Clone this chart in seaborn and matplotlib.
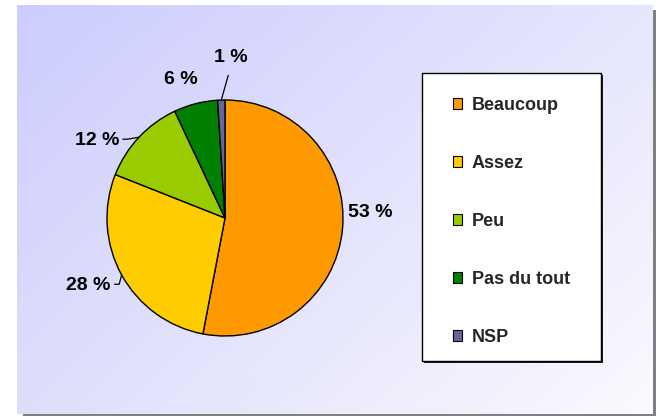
import numpy as np
import matplotlib
matplotlib.use("Agg")
import matplotlib.pyplot as plt
import seaborn as sns
from matplotlib.patches import Rectangle

categories = ["Beaucoup", "Assez", "Peu", "Pas du tout", "NSP"]
values = [53, 28, 12, 6, 1]
pct_labels = ["53 %", "28 %", "12 %", "6 %", "1 %"]
colors = ["#FF9900", "#FFCC00", "#99CC00", "#008000", "#666699"]

sns.set_theme(style="white")
plt.rcParams["font.family"] = ["Liberation Sans", "DejaVu Sans"]

W, H = 656, 416
fig = plt.figure(figsize=(W / 100, H / 100), dpi=100)
fig.patch.set_facecolor("white")

# background panel with gradient + shadow
bg = fig.add_axes([0, 0, 1, 1])
bg.set_xlim(0, W)
bg.set_ylim(H, 0)
bg.axis("off")
x0, x1, y0, y1 = 17, 653, 5, 414
bg.add_patch(Rectangle((x0 + 6, y1), x1 - x0 - 3, 3, color="#808080", lw=0))
bg.add_patch(Rectangle((x1, y0 + 5), 3, y1 - y0 - 2, color="#808080", lw=0))
nx, ny = 200, 130
u = np.linspace(0, 1, nx)[None, :, None]
v = np.linspace(0, 1, ny)[:, None, None]
tl = np.array([204, 204, 255]) / 255
tr = np.array([230, 230, 252]) / 255
bl = np.array([222, 222, 250]) / 255
br = np.array([250, 250, 255]) / 255
grad = (1 - u) * (1 - v) * tl + u * (1 - v) * tr + (1 - u) * v * bl + u * v * br
bg.imshow(grad, extent=(x0, x1, y1, y0), aspect="auto", interpolation="bilinear", zorder=1)

# legend box
lx0, lx1, ly0, ly1 = 422, 601, 73, 361
bg.add_patch(Rectangle((lx0 + 2, ly0 + 2), lx1 - lx0, ly1 - ly0, color="#202020", lw=0, zorder=2))
bg.add_patch(Rectangle((lx0, ly0), lx1 - lx0, ly1 - ly0, facecolor="white", edgecolor="black", lw=1, zorder=3))

# pie
cx, cy, r = 225, 218, 118
ax = fig.add_axes([(cx - r) / W, (H - cy - r) / H, 2 * r / W, 2 * r / H])
ax.set_facecolor("none")
wedges, _ = ax.pie(values, colors=colors, startangle=90, counterclock=False,
                   radius=1, wedgeprops=dict(edgecolor="black", linewidth=1))
ax.set_xlim(-1, 1)
ax.set_ylim(-1, 1)
ax.set_aspect("equal")
ax.axis("off")

label_r = [1.23, 1.29, 1.27, 1.23, 1.36]
label_shift = [7.5, -2.5, 12.0, 3.5, -3.8]
leader = [False, True, True, False, True]
for w, txt, lr, sh, ld in zip(wedges, pct_labels, label_r, label_shift, leader):
    mid = (w.theta1 + w.theta2) / 2
    ang = np.deg2rad(mid + sh)
    tx, ty = lr * np.cos(ang), lr * np.sin(ang)
    ax.text(tx, ty, txt, ha="center", va="center", fontsize=14, fontweight="bold",
            color="black", clip_on=False)
    if ld:
        m = np.deg2rad(mid)
        ex, ey = np.cos(m), np.sin(m)
        if txt == "1 %":
            sx, sy = tx - 0.02, ty - 0.15
            ax.plot([ex, sx], [ey, sy], color="black", lw=0.9, clip_on=False)
        else:
            sx, sy = tx + 0.22, ty + 0.01
            ax.plot([sx, sx + 0.04, ex], [sy, sy, ey], color="black", lw=0.9,
                    clip_on=False)

handles = [Rectangle((0, 0), 1, 1, facecolor=c, edgecolor="black", lw=0.8) for c in colors]
fig.legend(handles, categories, loc="upper left",
           bbox_to_anchor=(444 / W, 1 - 88 / H), frameon=False,
           prop=dict(size=13, weight="bold"), labelspacing=2.27,
           handlelength=0.5, handleheight=0.5, handletextpad=0.55, borderpad=0)

fig.savefig("out.png", dpi=100, facecolor="white")
